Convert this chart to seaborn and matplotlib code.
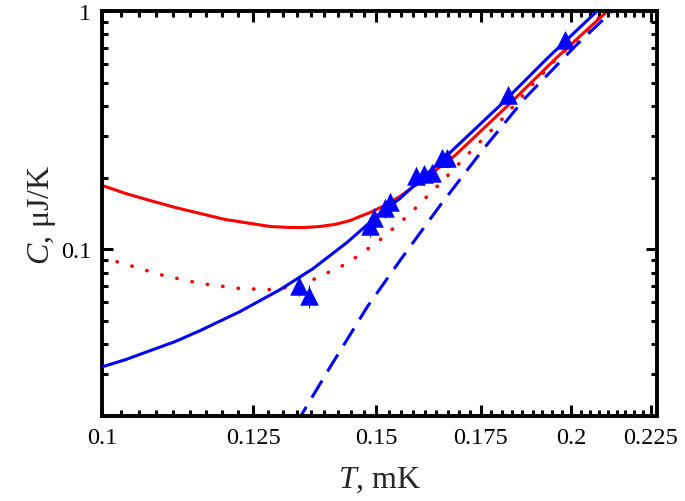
import numpy as np
import pandas as pd
import matplotlib
matplotlib.use("Agg")
import matplotlib.pyplot as plt
import seaborn as sns
from matplotlib.ticker import FixedLocator, LogLocator, NullFormatter, FixedFormatter

# measured points (T in mK, C in uJ/K)
t_data = [0.1338, 0.1358, 0.1486, 0.1495, 0.1519, 0.1530, 0.1590, 0.1609,
          0.1628, 0.1653, 0.1665, 0.1822, 0.1982]
c_data = [0.0706, 0.0641, 0.125, 0.136, 0.149, 0.1576, 0.203, 0.2066,
          0.2086, 0.241, 0.241, 0.4436, 0.755]
c_err = [0.007, 0.007, 0.012, 0.013, 0.014, 0.015, 0.018, 0.018,
         0.018, 0.02, 0.02, 0.03, 0.04]

# blue solid fit
t_blue = [0.1, 0.1035, 0.1073, 0.1114, 0.1156, 0.1226, 0.1301, 0.1366,
          0.1436, 0.1508, 0.1553, 0.1665, 0.1801, 0.1931, 0.2078]
c_blue = [0.0322, 0.0345, 0.0376, 0.0411, 0.0457, 0.0549, 0.0679, 0.0832,
          0.1070, 0.1416, 0.1637, 0.2483, 0.4027, 0.6346, 1.0]

# red solid fit
t_red = [0.1, 0.1035, 0.1073, 0.1114, 0.1156, 0.1199, 0.1245, 0.1282,
         0.1320, 0.1350, 0.1380, 0.1411, 0.1443, 0.1464, 0.1486, 0.1519,
         0.1553, 0.1611, 0.1685, 0.1822, 0.1956, 0.2110]
c_red = [0.1857, 0.1719, 0.1606, 0.1501, 0.1416, 0.1337, 0.1286, 0.1249,
         0.1237, 0.1237, 0.1249, 0.1274, 0.1323, 0.1376, 0.1430, 0.1531,
         0.1670, 0.1987, 0.2483, 0.4027, 0.6346, 1.0]

# red dotted
t_reddot = [0.1, 0.1042, 0.1089, 0.1156, 0.1226, 0.1282, 0.1330, 0.1366,
            0.1436, 0.1501, 0.1572, 0.1648, 0.1722, 0.1801, 0.1877, 0.1962,
            0.2063, 0.2100]
c_reddot = [0.0926, 0.0857, 0.0785, 0.0720, 0.0686, 0.0679, 0.0699, 0.0748,
            0.0873, 0.107, 0.139, 0.1894, 0.2557, 0.345, 0.470, 0.641,
            0.865, 1.0]

# blue dashed
t_bdash = [0.1332, 0.1401, 0.1480, 0.1553, 0.1648, 0.1754, 0.1868, 0.2012,
           0.2125]
c_bdash = [0.01857, 0.0322, 0.0576, 0.0899, 0.1531, 0.2606, 0.431, 0.713,
           1.0]

x_major = [0.1, 0.125, 0.15, 0.175, 0.2, 0.225]
x_labels = ["0.1", "0.125", "0.15", "0.175", "0.2", "0.225"]

sns.set_style("ticks")
plt.rcParams["font.family"] = ["Liberation Serif", "DejaVu Serif"]
plt.rcParams["mathtext.fontset"] = "custom"
plt.rcParams["mathtext.rm"] = "Liberation Serif"
plt.rcParams["mathtext.it"] = "Liberation Serif:italic"

blue = "#0000ff"
red = "#ff0000"

fig = plt.figure(figsize=(6.85, 5.02), dpi=100)
ax = fig.add_axes([0.149, 0.169, 0.81, 0.807])

sns.lineplot(x=t_blue, y=c_blue, ax=ax, color=blue, lw=2.2, sort=False,
             estimator=None, zorder=3)
sns.lineplot(x=t_red, y=c_red, ax=ax, color=red, lw=2.2, sort=False,
             estimator=None, zorder=2)
l_dot = sns.lineplot(x=t_reddot, y=c_reddot, ax=ax, color=red, lw=2.6,
                     sort=False, estimator=None, zorder=2).lines[-1]
l_dot.set_linestyle((0, (0.1, 4.2)))
l_dot.set_dash_capstyle("round")
l_dash = sns.lineplot(x=t_bdash, y=c_bdash, ax=ax, color=blue, lw=2.2,
                      sort=False, estimator=None, zorder=2).lines[-1]
l_dash.set_linestyle((0, (6.5, 3.5)))

ax.errorbar(t_data, c_data, yerr=c_err, fmt="none", ecolor=blue,
            elinewidth=0.8, zorder=4)
sns.scatterplot(x=t_data, y=c_data, ax=ax, marker="^", s=160, color=blue,
                edgecolor=blue, linewidth=0.5, zorder=5)

ax.set_xscale("log")
ax.set_yscale("log")
ax.set_xlim(0.1, 0.227)
ax.set_ylim(0.02, 1.0)

ax.xaxis.set_major_locator(FixedLocator(x_major))
ax.xaxis.set_major_formatter(FixedFormatter(x_labels))
x_minor = []
for a, b in zip(x_major[:-1], x_major[1:]):
    x_minor += list(np.linspace(a, b, 10)[1:-1])
ax.xaxis.set_minor_locator(FixedLocator(x_minor))
ax.xaxis.set_minor_formatter(NullFormatter())

ax.yaxis.set_major_locator(FixedLocator([0.1, 1.0]))
ax.yaxis.set_major_formatter(FixedFormatter(["0.1", "1"]))
ax.yaxis.set_minor_locator(LogLocator(base=10, subs=np.arange(2, 10)))
ax.yaxis.set_minor_formatter(NullFormatter())

ax.tick_params(which="both", direction="in", top=True, right=True,
               colors="black", labelsize=17.5, width=2.2)
ax.tick_params(which="major", length=8, pad=8)
ax.tick_params(which="minor", length=4)
for sp in ax.spines.values():
    sp.set_linewidth(2.8)
    sp.set_color("black")

ax.set_xlabel(r"$T$, mK", fontsize=23, labelpad=12)
ax.set_ylabel(r"$C$, μJ/K", fontsize=23, labelpad=2)

fig.savefig("out.png", dpi=100)
